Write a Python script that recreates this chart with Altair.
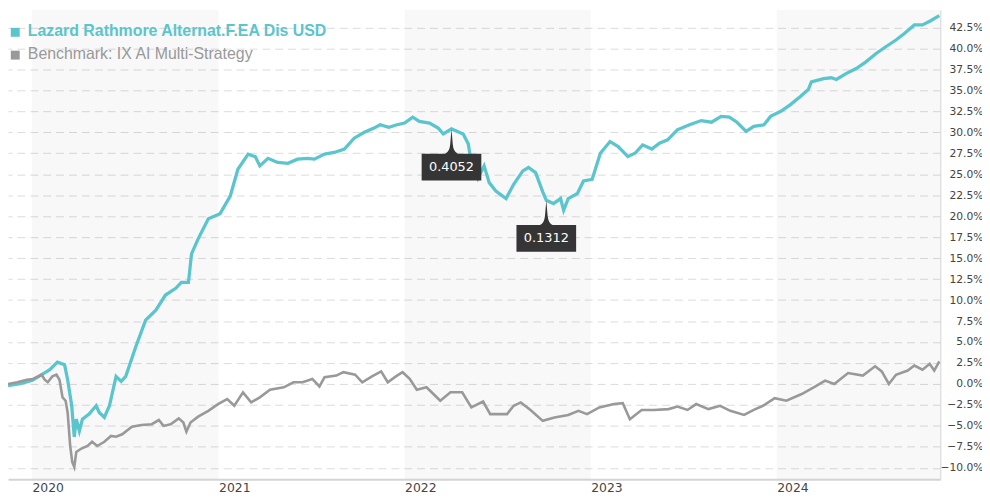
import altair as alt
import pandas as pd

# ---------------- data ----------------
fund_name = "Lazard Rathmore Alternat.F.EA Dis USD"
bench_name = "Benchmark: IX AI Multi-Strategy"

fund_dates = [
    "2019-11-15", "2019-12-09", "2020-01-01", "2020-01-17", "2020-02-05", "2020-02-20",
    "2020-03-05", "2020-03-11", "2020-03-19", "2020-03-24", "2020-03-28", "2020-04-03",
    "2020-04-09", "2020-04-22", "2020-05-06", "2020-05-12", "2020-05-22", "2020-06-01",
    "2020-06-14", "2020-06-24", "2020-07-03", "2020-07-23", "2020-08-11", "2020-08-31",
    "2020-09-19", "2020-10-09", "2020-10-20", "2020-11-03", "2020-11-09", "2020-11-22",
    "2020-12-12", "2021-01-04", "2021-01-24", "2021-02-08", "2021-02-28", "2021-03-14",
    "2021-03-23", "2021-04-08", "2021-04-27", "2021-05-17", "2021-06-05", "2021-06-25",
    "2021-07-08", "2021-07-28", "2021-08-16", "2021-09-05", "2021-09-24", "2021-10-14",
    "2021-11-02", "2021-11-14", "2021-12-01", "2021-12-17", "2022-01-01", "2022-01-17",
    "2022-01-30", "2022-02-19", "2022-03-08", "2022-03-18", "2022-04-03", "2022-04-26",
    "2022-05-06", "2022-05-10", "2022-05-25", "2022-06-06", "2022-06-16", "2022-06-29",
    "2022-07-19", "2022-08-03", "2022-08-21", "2022-09-01", "2022-09-15", "2022-09-29",
    "2022-10-06", "2022-10-20", "2022-11-03", "2022-11-09", "2022-11-18", "2022-12-06",
    "2022-12-18", "2023-01-04", "2023-01-20", "2023-02-08", "2023-02-24", "2023-03-15",
    "2023-03-29", "2023-04-13", "2023-05-01", "2023-05-16", "2023-06-01", "2023-06-20",
    "2023-07-14", "2023-08-06", "2023-08-26", "2023-09-14", "2023-09-30", "2023-10-15",
    "2023-11-02", "2023-11-17", "2023-12-07", "2023-12-20", "2024-01-09", "2024-01-28",
    "2024-02-17", "2024-03-03", "2024-03-09", "2024-04-02", "2024-04-17", "2024-04-27",
    "2024-05-16", "2024-06-05", "2024-06-24", "2024-07-14", "2024-08-02", "2024-08-22",
    "2024-09-08", "2024-09-27", "2024-10-13", "2024-10-29", "2024-11-15",
]
fund_values = [
    -0.2, 0.05, 0.4, 1.0, 1.7, 2.6,
    2.3, 0.5, -2.6, -6.3, -4.2, -5.6,
    -4.2, -3.6, -2.6, -3.4, -4.0, -2.6,
    0.9, 0.3, 0.9, 4.5, 7.6, 8.8,
    10.6, 11.4, 12.1, 12.1, 15.5, 17.3,
    19.7, 20.3, 22.4, 25.6, 27.4, 27.1,
    26.0, 26.9, 26.4, 26.3, 26.8, 26.9,
    26.8, 27.4, 27.6, 28.0, 29.3, 30.0,
    30.5, 30.9, 30.6, 30.9, 31.1, 31.8,
    31.3, 31.1, 30.5, 29.8, 30.4, 29.8,
    28.6, 27.0, 24.5, 26.0, 24.0, 23.0,
    22.1, 23.8, 25.4, 25.8, 25.2, 22.9,
    21.9, 21.5, 22.1, 20.7, 22.1, 22.7,
    24.2, 24.4, 27.5, 28.9, 28.3, 27.1,
    27.5, 28.5, 28.0, 28.7, 29.1, 30.3,
    30.9, 31.4, 31.2, 31.9, 31.8, 31.2,
    30.1, 30.7, 30.9, 31.9, 32.5, 33.3,
    34.3, 35.1, 36.0, 36.4, 36.5, 36.3,
    37.0, 37.6, 38.4, 39.4, 40.2, 41.0,
    41.8, 42.8, 42.8, 43.3, 43.9,
]

bench_dates = [
    "2019-11-15", "2019-12-03", "2019-12-22", "2020-01-03", "2020-01-20", "2020-01-26",
    "2020-02-01", "2020-02-10", "2020-02-18", "2020-02-24", "2020-03-01", "2020-03-07",
    "2020-03-11", "2020-03-16", "2020-03-20", "2020-03-24", "2020-03-28", "2020-04-07",
    "2020-04-19", "2020-04-28", "2020-05-08", "2020-05-22", "2020-06-04", "2020-06-14",
    "2020-06-26", "2020-07-15", "2020-08-03", "2020-08-23", "2020-09-06", "2020-09-15",
    "2020-09-29", "2020-10-15", "2020-10-24", "2020-10-30", "2020-11-07", "2020-11-22",
    "2020-12-12", "2020-12-31", "2021-01-18", "2021-02-01", "2021-02-18", "2021-03-06",
    "2021-03-23", "2021-04-12", "2021-05-09", "2021-05-28", "2021-06-15", "2021-07-04",
    "2021-07-18", "2021-07-28", "2021-08-20", "2021-09-03", "2021-09-26", "2021-10-10",
    "2021-10-29", "2021-11-16", "2021-11-29", "2021-12-15", "2021-12-28", "2022-01-11",
    "2022-01-25", "2022-02-13", "2022-03-12", "2022-04-01", "2022-04-24", "2022-05-12",
    "2022-06-04", "2022-06-18", "2022-07-21", "2022-08-03", "2022-08-17", "2022-09-05",
    "2022-09-29", "2022-10-22", "2022-11-18", "2022-12-08", "2022-12-25", "2023-01-18",
    "2023-02-16", "2023-03-05", "2023-03-19", "2023-04-11", "2023-05-05", "2023-06-03",
    "2023-06-20", "2023-07-10", "2023-07-27", "2023-08-20", "2023-09-12", "2023-10-02",
    "2023-10-29", "2023-11-17", "2023-12-05", "2023-12-28", "2024-01-20", "2024-02-19",
    "2024-03-17", "2024-04-05", "2024-04-23", "2024-05-20", "2024-06-18", "2024-07-12",
    "2024-07-25", "2024-08-08", "2024-08-22", "2024-09-14", "2024-09-27", "2024-10-13",
    "2024-10-27", "2024-11-05", "2024-11-15",
]
bench_values = [
    0.0, 0.2, 0.5, 0.6, 1.1, 0.5,
    0.2, 0.9, 1.1, 0.5, -1.6, -2.0,
    -3.4, -7.4, -9.3, -9.9, -8.1, -7.7,
    -7.4, -6.9, -7.4, -6.9, -6.2, -6.3,
    -6.0, -5.1, -4.9, -4.8, -4.3, -5.0,
    -4.8, -4.1, -4.6, -5.7, -4.6, -3.9,
    -3.2, -2.4, -1.8, -2.6, -1.0, -2.2,
    -1.6, -0.7, -0.4, 0.2, 0.2, 0.6,
    -0.3, 0.8, 1.0, 1.4, 1.1, 0.2,
    0.9, 1.5, 0.2, 0.9, 1.4, 0.6,
    -0.7, -0.4, -2.0, -1.0, -1.0, -2.8,
    -2.1, -3.6, -3.6, -2.6, -2.2, -3.1,
    -4.4, -4.0, -3.7, -3.2, -3.6, -2.8,
    -2.4, -2.3, -4.2, -3.1, -3.1, -3.0,
    -2.7, -3.1, -2.4, -3.0, -2.6, -3.2,
    -3.7, -3.1, -2.6, -1.7, -2.0, -1.2,
    -0.3, 0.4, 0.0, 1.3, 1.0, 2.1,
    1.5, 0.0, 1.1, 1.6, 2.2, 1.7,
    2.4, 1.6, 2.7,
]

band_starts = ["2020-01-01", "2022-01-01", "2024-01-01"]
band_ends = ["2021-01-01", "2023-01-01", "2024-11-17"]

ann_dates = ["2022-04-03", "2022-10-06"]
ann_values = [30.4, 21.9]
ann_labels = ["0.4052", "0.1312"]

year_ticks = [2020, 2021, 2022, 2023, 2024]
y_ticks = [-10.0, -7.5, -5.0, -2.5, 0.0, 2.5, 5.0, 7.5, 10.0, 12.5, 15.0, 17.5, 20.0,
           22.5, 25.0, 27.5, 30.0, 32.5, 35.0, 37.5, 40.0, 42.5]
y_domain = [-11.35, 44.58]

TEAL = "#5bc5cd"
GRAY = "#999999"
FONT = "DejaVu Sans"

# ---------------- tables ----------------
fund_df = pd.DataFrame({"date": pd.to_datetime(fund_dates), "value": fund_values})
bench_df = pd.DataFrame({"date": pd.to_datetime(bench_dates), "value": bench_values})
band_df = pd.DataFrame({"start": pd.to_datetime(band_starts), "end": pd.to_datetime(band_ends)})
ann_df = pd.DataFrame({"date": pd.to_datetime(ann_dates), "value": ann_values, "label": ann_labels})

x_scale = alt.Scale(domain=[alt.DateTime(year=2019, month=11, date=15),
                            alt.DateTime(year=2024, month=11, date=17)], nice=False)
y_scale = alt.Scale(domain=y_domain, nice=False, zero=False)

x_axis = alt.Axis(values=[alt.DateTime(year=y, month=1, date=1) for y in year_ticks],
                  format="%Y", labelAlign="left", labelBaseline="alphabetic",
                  labelPadding=12, ticks=False, tickSize=0, grid=False,
                  domainColor="#d4d4d4", domainWidth=2, labelFont=FONT,
                  labelFontSize=12.5, labelColor="#444444", title=None,
                  labelFlush=False, labelOverlap=False)
y_axis = alt.Axis(orient="right", values=y_ticks,
                  labelExpr="format(datum.value, '.1f') + '%'",
                  labelAlign="right", labelPadding=43, ticks=False, tickSize=0,
                  grid=True, gridColor="#dcdcdc", gridDash=[8, 5], gridWidth=1,
                  domainColor="#d4d4d4", labelFont=FONT, labelFontSize=10.8,
                  labelColor="#444444", title=None, labelOverlap=False,
                  labelFlush=False)

X_DATE = alt.X("date:T", scale=x_scale, axis=x_axis)
Y_VAL = alt.Y("value:Q", scale=y_scale, axis=y_axis)

bands = alt.Chart(band_df).mark_rect(color="#000000", opacity=0.028).encode(
    x=alt.X("start:T", scale=x_scale, axis=x_axis),
    x2="end:T",
)

fund_line = alt.Chart(fund_df).mark_line(color=TEAL, strokeWidth=3.3, clip=True).encode(
    x=X_DATE, y=Y_VAL,
)
bench_line = alt.Chart(bench_df).mark_line(color=GRAY, strokeWidth=2.6, clip=True).encode(
    x=X_DATE, y=Y_VAL,
)

callout_path = ("M0,-0.78 L0.04,-0.3 Q0.06,-0.06 0.2,0 L0.94,0 L0.94,0.84 "
                "L-0.94,0.84 L-0.94,0 L-0.2,0 Q-0.06,-0.06 -0.04,-0.3 Z")
ann_box = alt.Chart(ann_df).mark_point(
    shape=callout_path, size=4096, filled=True, fill="#353535", opacity=1,
    strokeWidth=0, yOffset=25,
).encode(x=X_DATE, y=Y_VAL)
ann_text = alt.Chart(ann_df).mark_text(
    color="#ffffff", font=FONT, fontSize=13, baseline="middle", align="center",
    yOffset=38.5,
).encode(x=X_DATE, y=Y_VAL, text="label:N")

legend_df = pd.DataFrame({"name": [fund_name, bench_name]})
leg_sq1 = alt.Chart(legend_df.iloc[[0]]).mark_square(size=81, color=TEAL, opacity=1).encode(
    x=alt.value(7.3), y=alt.value(22.5))
leg_sq2 = alt.Chart(legend_df.iloc[[1]]).mark_square(size=81, color=GRAY, opacity=1).encode(
    x=alt.value(7.3), y=alt.value(45.5))
leg_t1 = alt.Chart(legend_df.iloc[[0]]).mark_text(
    color=TEAL, font="Liberation Sans", fontSize=16, fontWeight="bold",
    align="left", baseline="alphabetic").encode(
    x=alt.value(20), y=alt.value(26.5), text="name:N")
leg_t2 = alt.Chart(legend_df.iloc[[1]]).mark_text(
    color=GRAY, font="Liberation Sans", fontSize=16, align="left",
    baseline="alphabetic").encode(
    x=alt.value(20), y=alt.value(49.5), text="name:N")

chart = alt.layer(
    bands, fund_line, bench_line, ann_box, ann_text,
    leg_sq1, leg_sq2, leg_t1, leg_t2,
).properties(
    width=940, height=473,
    autosize=alt.AutoSizeParams(type="none"),
    padding={"left": 0, "top": 0, "right": 42, "bottom": 19},
).configure_view(stroke=None).configure_axis(labelOverlap=False)

chart.save("out.html", embed_options={"renderer": "svg", "actions": False})
